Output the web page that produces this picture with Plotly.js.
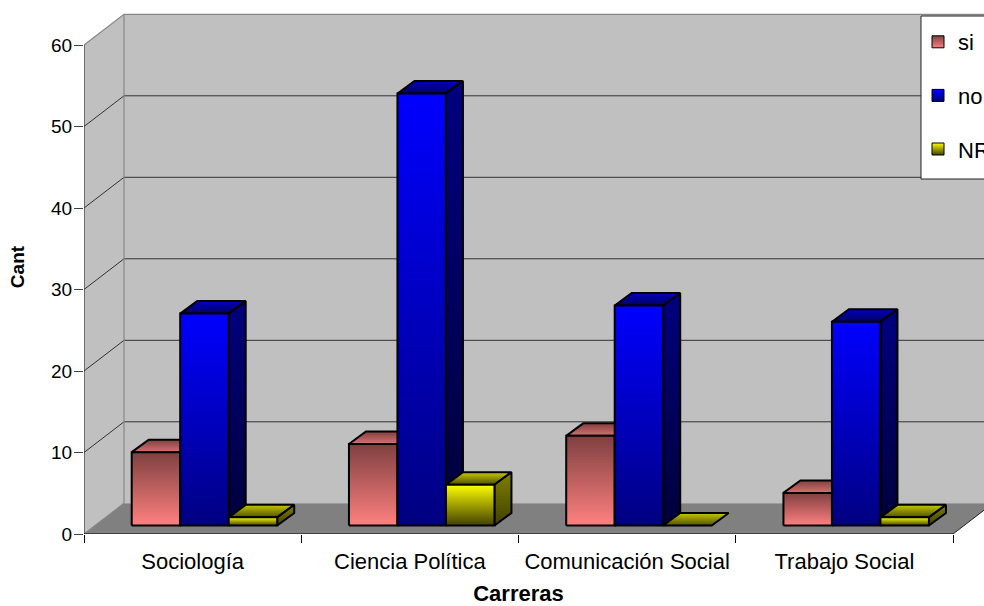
<!DOCTYPE html>
<html><head><meta charset="utf-8">
<script src="https://cdn.plot.ly/plotly-3.0.1.min.js"></script>
<style>html,body{margin:0;padding:0;background:#fff;overflow:hidden}#c{width:984px;height:606px}</style>
</head><body><div id="c"></div>
<script>
const categories = ["Sociología","Ciencia Política","Comunicación Social","Trabajo Social"];
const si = [9,10,11,4];
const no = [26,53,27,25];
const nr = [1,5,0,1];
const yTicks = [0,10,20,30,40,50,60];

// pixel scale of the axes (geometry of the simulated 3-D projection)
const PXX = 217.25, PXY = 8.15;
const wallDx = 40/PXX, wallDy = 30.7/PXY;
const planeDx = 47.7/PXX, planeDy = 8.5/PXY;
const barW = 48.5/PXX, depthDx = 17/PXX, depthDy = 12.5/PXY;
const xMax = categories.length;
const LW = 2;

const traces = [];
function poly(xs, ys, scale){
  traces.push({type:'scatter',xaxis:'x2',mode:'lines',x:xs.concat(xs[0]),y:ys.concat(ys[0]),fill:'toself',
    fillgradient:{type:'vertical',colorscale:[[0,scale[0]],[1,scale[1]]]},
    line:{color:'#000',width:LW},hoverinfo:'skip',showlegend:false});
}
function flat(xs, ys, color){
  traces.push({type:'scatter',xaxis:'x2',mode:'lines',x:xs.concat(xs[0]),y:ys.concat(ys[0]),fill:'toself',fillcolor:color,
    line:{color:color,width:0},hoverinfo:'skip',showlegend:false});
}
function path(xs, ys, color, w){
  traces.push({type:'scatter',xaxis:'x2',mode:'lines',x:xs,y:ys,line:{color:color,width:w},hoverinfo:'skip',showlegend:false});
}
const top60 = yTicks[yTicks.length-1];
// walls and floor
flat([0,wallDx,wallDx,0],[0,wallDy,top60+wallDy,top60],'#c0c0c0');
flat([wallDx,xMax+wallDx,xMax+wallDx,wallDx],[wallDy,wallDy,top60+wallDy,top60+wallDy],'#c0c0c0');
flat([0,xMax,xMax+wallDx,wallDx],[0,0,wallDy,wallDy],'#808080');
// grid lines on the walls
yTicks.slice(1,-1).forEach(v=>path([0,wallDx,xMax+wallDx],[v,v+wallDy,v+wallDy],'#222',0.9));
path([0,wallDx,xMax+wallDx],[top60,top60+wallDy,top60+wallDy],'#868686',1.2);
path([wallDx,wallDx],[wallDy,top60+wallDy],'#868686',1.2);
path([0,wallDx],[0,wallDy],'#868686',1.2);
path([0,0],[0,top60],'#333',1.2);
path([0,xMax],[0,0],'#000',1);
path([xMax,xMax+wallDx],[0,wallDy],'#222',1);

const styles = [
 {front:['#ff8080','#7f4040'],side:['#3f2020','#7f4040'],top:['#d87070','#7f4040']},
 {front:['#000080','#0000ff'],side:['#00003a','#000080'],top:['#000060','#0000c0']},
 {front:['#404000','#ffff00'],side:['#404000','#808000'],top:['#505000','#c8c800']}
];
const seriesVals = [si,no,nr];
categories.forEach((c,i)=>{
  seriesVals.forEach((vals,s)=>{
    const v = vals[i], st = styles[s];
    const x0 = i + planeDx + s*barW, x1 = x0 + barW;
    const y0 = planeDy, y1 = planeDy + v;
    poly([x0,x1,x1+depthDx,x0+depthDx],[y1,y1,y1+depthDy,y1+depthDy],st.top);
    if(v>0){
      poly([x1,x1+depthDx,x1+depthDx,x1],[y0,y0+depthDy,y1+depthDy,y1],st.side);
      poly([x0,x1,x1,x0],[y0,y0,y1,y1],st.front);
    }
  });
});
// legend entries
[['si','#7f4040','#ff8080'],['no','#0000ff','#000080'],['NR','#ffff00','#404000']].forEach(l=>{
  traces.push({type:'scatter',mode:'markers',name:l[0],legendgroup:l[0],x:[null],y:[null],
    marker:{symbol:'square',size:12,color:l[1],gradient:{type:'vertical',color:l[2]},line:{color:'#000',width:1}}});
});

const font = {family:'"Liberation Sans",Arial,sans-serif',color:'#000'};
const plotH = 534, plotW = 900;
const layout = {
  width:984,height:606,
  paper_bgcolor:'#fff',plot_bgcolor:'rgba(0,0,0,0)',
  margin:{l:84,r:0,t:0,b:72,pad:0,autoexpand:false},
  font:Object.assign({size:19},font),
  xaxis:{domain:[0,xMax*PXX/plotW],range:[0,xMax],showgrid:false,zeroline:false,showline:false,anchor:'y',
    tickmode:'array',tickvals:categories.map((c,i)=>i+0.5),ticktext:categories,ticks:'',
    tickfont:{size:22},ticklabelstandoff:12,
    minor:{tickmode:'array',tickvals:[0,1,2,3,4],ticks:'outside',ticklen:8,tickcolor:'#000',tickwidth:1,showgrid:false},
    title:{text:'<b>Carreras</b>',font:{size:22},standoff:27}},
  xaxis2:{domain:[0,1],range:[0,plotW/PXX],visible:false,anchor:'y'},
  yaxis:{range:[0,plotH/PXY],showgrid:false,zeroline:false,showline:false,
    tickmode:'array',tickvals:yTicks,ticks:'outside',ticklen:9,tickcolor:'#444',tickwidth:1,
    tickfont:{size:19},ticklabelstandoff:-2,
    title:{text:'<b>Cant</b>',font:{size:19},standoff:21}},
  shapes:[{type:'rect',xref:'paper',yref:'paper',layer:'above',x0:(921-84)/plotW,x1:1.1,y0:1-179/plotH,y1:1-16/plotH,
    fillcolor:'#fff',line:{color:'#222',width:1}}],
  showlegend:true,
  legend:{x:(918-84)/plotW,xref:'paper',xanchor:'left',y:1-21/plotH,yanchor:'top',bgcolor:'rgba(0,0,0,0)',borderwidth:0,
    tracegroupgap:22,font:{size:22},itemclick:false,itemdoubleclick:false,entrywidth:70,entrywidthmode:'pixels'},
  hovermode:false
};
Plotly.newPlot('c',traces,layout,{displayModeBar:false,staticPlot:true});
</script></body></html>
